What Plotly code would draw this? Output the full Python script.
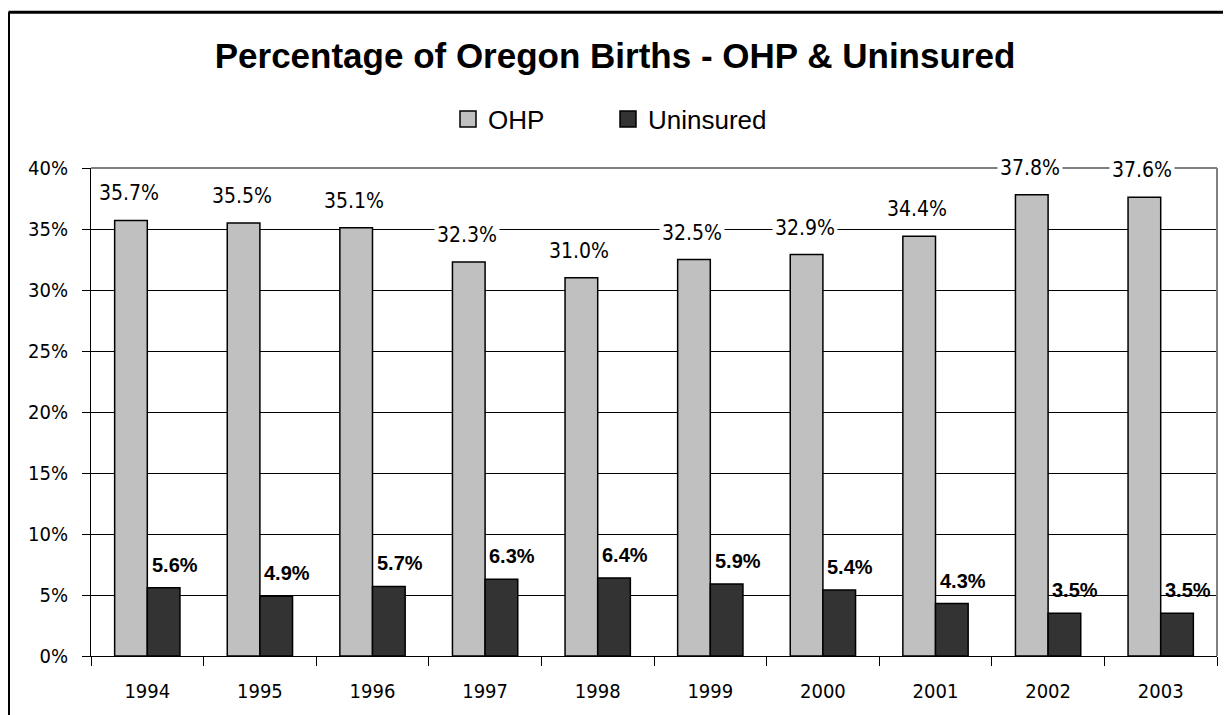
import plotly.graph_objects as go

years = ["1994", "1995", "1996", "1997", "1998", "1999", "2000", "2001", "2002", "2003"]
ohp = [35.7, 35.5, 35.1, 32.3, 31.0, 32.5, 32.9, 34.4, 37.8, 37.6]
uninsured = [5.6, 4.9, 5.7, 6.3, 6.4, 5.9, 5.4, 4.3, 3.5, 3.5]
y_ticks = [0, 5, 10, 15, 20, 25, 30, 35, 40]
y_tick_labels = [f"{t}%" for t in y_ticks]

# page body has an 8px margin; figure pixel = screen pixel - 8
W, H = 1223, 707
ML, MT = 83, 160
PR, PB = 1209, 650          # plot-area right / bottom in figure pixels
MR, MB = W - PR, H - PB
PW, PH = PR - ML, PB - MT

NARROW = "DejaVu Sans Condensed, Liberation Sans Narrow, Arial Narrow, sans-serif"
ARIAL = "Liberation Sans, Arial, sans-serif"

bargap = 0.42
half = (1 - bargap) / 4  # offset of each bar center from category center

xs = list(range(len(years)))
GRAY, DARK = "#c0c0c0", "#333333"

fig = go.Figure()
fig.add_trace(go.Bar(x=xs, y=ohp, name="OHP", showlegend=False,
                     marker=dict(color=GRAY, line=dict(color="black", width=1.5))))
fig.add_trace(go.Bar(x=xs, y=uninsured, name="Uninsured", showlegend=False,
                     marker=dict(color=DARK, line=dict(color="black", width=1.5))))
# legend keys (square swatches)
for name, col in (("OHP", GRAY), ("Uninsured", DARK)):
    fig.add_trace(go.Scatter(x=[None], y=[None], mode="markers", name=name,
                             marker=dict(symbol="square", size=16, color=col,
                                         line=dict(color="black", width=1.5))))

annotations = []
for i, v in enumerate(ohp):
    annotations.append(dict(x=i - half, y=v, xref="x", yref="y", text=f"{v:.1f}%",
                            showarrow=False, yanchor="middle", yshift=27, xshift=-2,
                            bgcolor="white", borderpad=2,
                            font=dict(family=NARROW, size=21, color="black")))
for i, v in enumerate(uninsured):
    annotations.append(dict(x=i + half, y=v, xref="x", yref="y", text=f"<b>{v:.1f}%</b>",
                            showarrow=False, yanchor="middle", yshift=23, xshift=11,
                            font=dict(family=ARIAL, size=20, color="black")))

fx = (0.5 - ML) / PW
fy = (PB - 3.5) / PH
shapes = [
    # gray plot-area border (top and right)
    dict(type="line", xref="paper", yref="paper", x0=0, x1=1, y0=1, y1=1,
         line=dict(color="#808080", width=2)),
    dict(type="line", xref="paper", yref="paper", x0=1, x1=1, y0=0, y1=1,
         line=dict(color="#808080", width=2)),
    # outer chart frame (left and top visible)
    dict(type="line", xref="paper", yref="paper", x0=fx, x1=(W + 20 - ML) / PW, y0=fy, y1=fy,
         line=dict(color="black", width=3)),
    dict(type="line", xref="paper", yref="paper", x0=fx, x1=fx, y0=fy, y1=(PB - H - 20) / PH,
         line=dict(color="black", width=3)),
]

fig.update_layout(
    width=W, height=H,
    margin=dict(l=ML, r=MR, t=MT, b=MB),
    paper_bgcolor="white", plot_bgcolor="white",
    barmode="group", bargap=bargap, bargroupgap=0,
    title=dict(text="<b>Percentage of Oregon Births - OHP & Uninsured</b>",
               x=607 / W, xanchor="center", y=1 - 47.5 / H, yanchor="middle",
               font=dict(family=ARIAL, size=35, color="black")),
    legend=dict(orientation="h", x=(440 - ML) / PW, xanchor="left",
                y=(PB - 111) / PH, yanchor="middle",
                font=dict(family=ARIAL, size=26, color="black"),
                entrywidth=115, entrywidthmode="pixels", itemsizing="trace",
                bgcolor="rgba(0,0,0,0)"),
    xaxis=dict(range=[-0.5, len(years) - 0.5], tickmode="array", tickvals=xs, ticktext=years,
               ticks="", showgrid=False, zeroline=False, ticklabelstandoff=17,
               showline=True, linecolor="black", linewidth=1,
               tickfont=dict(family=NARROW, size=20, color="black"),
               minor=dict(tickmode="array", tickvals=[i - 0.5 for i in range(len(years) + 1)],
                          ticks="outside", ticklen=9, tickcolor="black", tickwidth=1, showgrid=False)),
    yaxis=dict(range=[0, 40], tickmode="array", tickvals=y_ticks, ticktext=y_tick_labels,
               ticks="outside", ticklen=8, tickcolor="black", ticklabelstandoff=10,
               showgrid=True, gridcolor="black", gridwidth=1, zeroline=False,
               showline=True, linecolor="black", linewidth=1,
               tickfont=dict(family=NARROW, size=20, color="black")),
    annotations=annotations,
    shapes=shapes,
)

fig.write_html("out.html")
